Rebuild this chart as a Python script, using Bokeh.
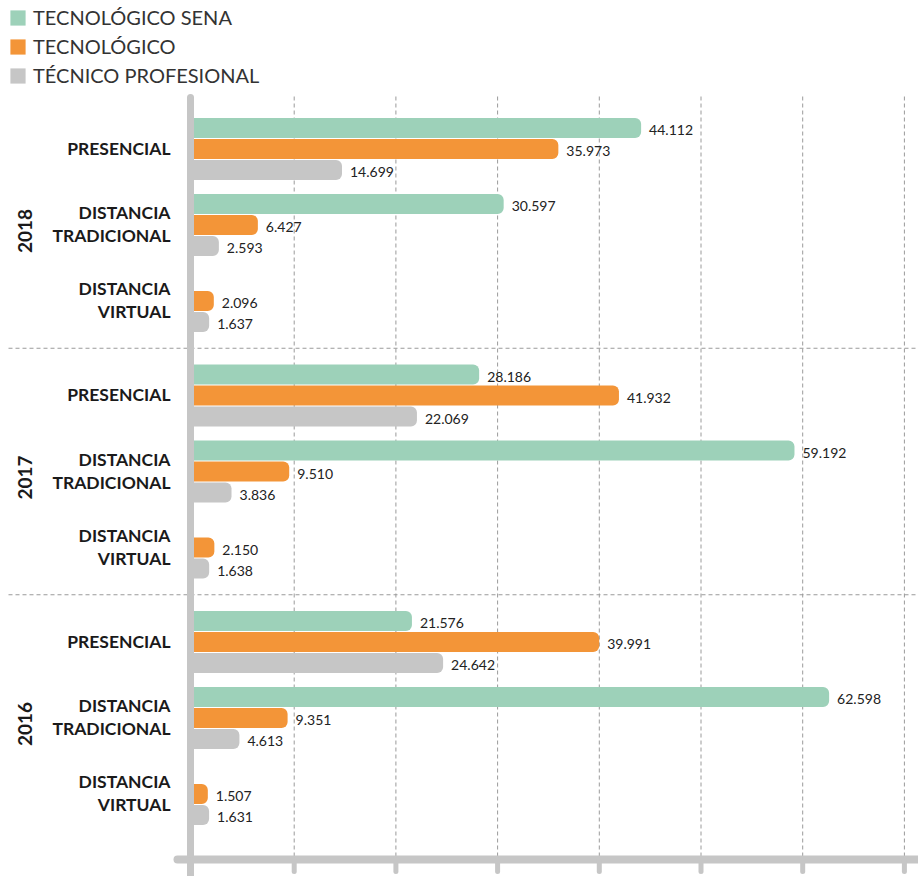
import math
from bokeh.plotting import figure
from bokeh.models import Range1d, ColumnDataSource, Legend, LegendItem
from bokeh.core.properties import value
from bokeh.embed import file_html
from bokeh.resources import INLINE

# ---------------- data ----------------
years = ["2018", "2017", "2016"]
modalities = ["PRESENCIAL", "DISTANCIA\nTRADICIONAL", "DISTANCIA\nVIRTUAL"]
series = ["TECNOLÓGICO SENA", "TECNOLÓGICO", "TÉCNICO PROFESIONAL"]

tecnologico_sena = {"2018": [44112, 30597, 0], "2017": [28186, 59192, 0], "2016": [21576, 62598, 0]}
tecnologico = {"2018": [35973, 6427, 2096], "2017": [41932, 9510, 2150], "2016": [39991, 9351, 1507]}
tecnico_profesional = {"2018": [14699, 2593, 1637], "2017": [22069, 3836, 1638], "2016": [24642, 4613, 1631]}

grid_ticks = [10000, 20000, 30000, 40000, 50000, 60000, 70000]

colors = ["#9dd1b9", "#f39538", "#c6c6c6"]

# ---------------- layout ----------------
W, H = 918, 876
X0_REF = 192.0
PX_PER_UNIT = 0.01017


def vx(ref_x):
    return (ref_x - X0_REF) / PX_PER_UNIT


FIRST = 127.5
YEAR_PITCH = 246.5
MOD_PITCH = 76.0
BAR_PITCH = 21.0
BAR_H = 20.0

p = figure(width=W, height=H, x_range=Range1d(vx(0), vx(W)), y_range=Range1d(H, 0),
           output_backend="svg", toolbar_location=None, min_border=0,
           x_axis_location=None, y_axis_location=None)
p.grid.visible = False
p.outline_line_color = None
p.background_fill_color = "white"
p.border_fill_color = "white"

# grid lines (vertical dashed)
p.segment(x0=grid_ticks, x1=grid_ticks, y0=[96] * len(grid_ticks), y1=[858] * len(grid_ticks),
          line_color="#9a9a9a", line_width=1, line_dash="4 3")

# year separators
sep_y = []
for yi in range(len(years) - 1):
    last = FIRST + yi * YEAR_PITCH + 2 * MOD_PITCH + 2 * BAR_PITCH
    nxt = FIRST + (yi + 1) * YEAR_PITCH
    sep_y.append((last + nxt) / 2)
p.segment(x0=[vx(8)] * len(sep_y), x1=[vx(918)] * len(sep_y), y0=sep_y, y1=sep_y,
          line_color="#9a9a9a", line_width=1, line_dash="4 3")

# bars
renderers = []
all_series = [tecnologico_sena, tecnologico, tecnico_profesional]
for si, (name, data) in enumerate(zip(series, all_series)):
    ys, vals, labels = [], [], []
    for yi, yr in enumerate(years):
        for mi in range(len(modalities)):
            v = data[yr][mi]
            yc = FIRST + yi * YEAR_PITCH + mi * MOD_PITCH + si * BAR_PITCH
            if v > 0:
                ys.append(yc)
                vals.append(v)
                labels.append(f"{v:,}".replace(",", "."))
    src = ColumnDataSource(dict(y=ys, right=vals, label=labels))
    r = p.hbar(y="y", right="right", left=0, height=BAR_H, source=src,
               fill_color=colors[si], line_color=None, border_radius=(0, 6, 6, 0))
    renderers.append(r)
    p.text(x="right", y="y", text="label", source=src, x_offset=8, y_offset=2,
           text_font=value("Lato"), text_font_size="14px", text_color="#222222",
           text_baseline="middle", text_align="left")

# axis lines
p.segment(x0=[vx(190)], x1=[vx(190)], y0=[97], y1=[880], line_color="#c6c6c6",
          line_width=7, line_cap="round")
p.segment(x0=[vx(177)], x1=[vx(930)], y0=[859], y1=[859], line_color="#c6c6c6",
          line_width=8, line_cap="round")
tick_x = [vx(190)] + grid_ticks
p.segment(x0=tick_x, x1=tick_x, y0=[859] * len(tick_x), y1=[871] * len(tick_x),
          line_color="#c6c6c6", line_width=5, line_cap="round")

# category labels
lx, ly, lt = [], [], []
for yi, yr in enumerate(years):
    for mi, m in enumerate(modalities):
        center = FIRST + yi * YEAR_PITCH + mi * MOD_PITCH + BAR_PITCH
        lines = m.split("\n")
        n = len(lines)
        for k, line in enumerate(lines):
            lx.append(vx(170))
            ly.append(center + (k - (n - 1) / 2) * 23 - 1)
            lt.append(line)
p.text(x=lx, y=ly, text=lt, text_font=value("Lato"), text_font_style="bold",
       text_font_size="17.5px", text_color="#1a1a1a", text_align="right", text_baseline="middle")

# year labels
yx = [vx(24)] * len(years)
yy = [FIRST + yi * YEAR_PITCH + MOD_PITCH + BAR_PITCH + 6 for yi in range(len(years))]
p.text(x=yx, y=yy, text=years, angle=math.pi / 2, text_font=value("Lato"),
       text_font_style="bold", text_font_size="19px", text_color="#1a1a1a",
       text_align="center", text_baseline="middle")

# legend
legend = Legend(items=[LegendItem(label=s, renderers=[r]) for s, r in zip(series, renderers)],
                location=(8, 789), orientation="vertical")
legend.margin = 0
legend.padding = 0
legend.spacing = 5
legend.glyph_width = 19
legend.glyph_height = 19
legend.label_height = 19
legend.label_standoff = 6
legend.label_text_font = "Lato"
legend.label_text_font_size = "20px"
legend.label_text_color = "#333333"
legend.border_line_color = None
legend.background_fill_alpha = 0
p.add_layout(legend)

open("out.html", "w").write(file_html(p, INLINE))
